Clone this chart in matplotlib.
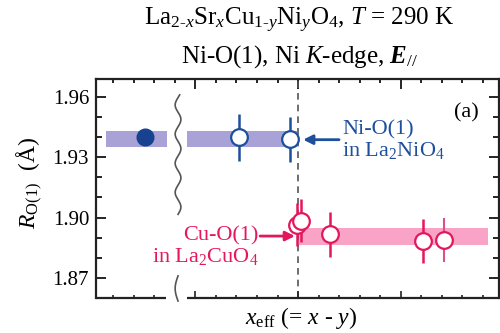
import numpy as np
import matplotlib
matplotlib.use("Agg")
import matplotlib.pyplot as plt

plt.rcParams['font.family'] = ['Liberation Serif', 'DejaVu Serif']
plt.rcParams['mathtext.fontset'] = 'custom'
plt.rcParams['mathtext.rm'] = 'Liberation Serif'
plt.rcParams['mathtext.it'] = 'Liberation Serif:italic'
plt.rcParams['mathtext.bf'] = 'Liberation Serif:bold:italic'

# Ni-O(1) distances, Ni K-edge (blue)
ni_ref_x = [-0.149]          # La2NiO4 reference (filled)
ni_ref_r = [1.9398]
ni_x = [-0.058, -0.008]
ni_r = [1.9398, 1.9389]
ni_err = [0.0115, 0.0112]
ni_band = (1.9349, 1.9428)

# Ni-O(1) distances on the x_eff >= 0 side (pink)
cu_x = [-0.001, 0.003, 0.031, 0.122]
cu_r = [1.8965, 1.8985, 1.8916, 1.8882]
cu_err = [0.0105, 0.0105, 0.0110, 0.0110]
cu_last_x = [0.142]
cu_last_r = [1.8887]
cu_last_err = [0.0110]
cu_band = (1.8862, 1.8946)

blue = '#1d4f9c'
blue_dark = '#17428f'
blue_band = '#a9a2d6'
pink = '#e5175c'
pink_pale = '#d9508a'
pink_band = '#f9a3c6'

fig = plt.figure(figsize=(5, 3.33), dpi=100)
ax = fig.add_axes([0.192, 0.105, 0.806, 0.658])
ax.set_xlim(-0.197, 0.196)
ax.set_ylim(1.8606, 1.9689)

# shaded bands
ax.fill_between([-0.187, -0.128], *ni_band, color=blue_band, lw=0, zorder=1)
ax.fill_between([-0.108, -0.001], *ni_band, color=blue_band, lw=0, zorder=1)
ax.fill_between([0.0, 0.185], *cu_band, color=pink_band, lw=0, zorder=1)

# x_eff = 0 line
ax.axvline(0, color='#555555', ls=(0, (4, 3)), lw=1.2, zorder=2)

ms = 12
ax.plot(ni_ref_x, ni_ref_r, 'o', color=blue_dark, ms=ms, zorder=4)
ax.errorbar(ni_x, ni_r, yerr=ni_err, fmt='o', color=blue, ms=ms, mfc='white',
            mec=blue, mew=1.6, elinewidth=1.8, capsize=0, zorder=4)
ax.errorbar(cu_x, cu_r, yerr=cu_err, fmt='o', color=pink, ms=ms, mfc='white',
            mec=pink, mew=1.6, elinewidth=1.8, capsize=0, zorder=4)
ax.errorbar(cu_last_x, cu_last_r, yerr=cu_last_err, fmt='o', color=pink_pale,
            ms=ms, mfc='white', mec=pink, mew=1.6, elinewidth=1.5, capsize=0,
            zorder=4)

# annotations
ax.annotate('', xy=(0.005, 1.9387), xytext=(0.040, 1.9387),
            arrowprops=dict(arrowstyle='-|>', color=blue, lw=2,
                            mutation_scale=14, shrinkA=0, shrinkB=0))
ax.text(0.043, 1.9383, 'Ni-O(1)\nin La$_2$NiO$_4$', color=blue, fontsize=16,
        ha='left', va='center', linespacing=1.0)
ax.annotate('', xy=(-0.003, 1.8908), xytext=(-0.037, 1.8908),
            arrowprops=dict(arrowstyle='-|>', color=pink, lw=2,
                            mutation_scale=14, shrinkA=0, shrinkB=0))
ax.text(-0.039, 1.8856, 'Cu-O(1)\nin La$_2$CuO$_4$', color=pink, fontsize=16,
        ha='right', va='center', multialignment='right', linespacing=1.0)
ax.text(0.164, 1.952, '(a)', fontsize=16, ha='center', va='center')

# axis break squiggle
br_x = -0.117
yy = np.linspace(1.9016, 1.961, 200)
ax.plot(br_x + 0.0028 * np.sin((yy - 1.9016) / 0.0145 * 2 * np.pi), yy,
        color='#555555', lw=1.2, clip_on=False, zorder=3)
yy = np.linspace(1.8585, 1.871, 60)
ax.plot(br_x - 0.0028 * np.sin((yy - 1.8585) / 0.025 * 2 * np.pi), yy,
        color='#555555', lw=1.2, clip_on=False, zorder=3)

# spines and ticks
ax.spines['bottom'].set_visible(False)
xt = ax.get_xaxis_transform()
ax.plot([-0.197, -0.129], [0, 0], color='#222222', lw=1.6, transform=xt,
        clip_on=False, solid_capstyle='butt')
ax.plot([-0.108, 0.196], [0, 0], color='#222222', lw=1.6, transform=xt,
        clip_on=False, solid_capstyle='butt')
for s in ['top', 'left', 'right']:
    ax.spines[s].set_linewidth(1.6)
    ax.spines[s].set_color('#222222')

major_x = [-0.1, 0.0, 0.1]
minor_x = [-0.18, -0.16, -0.14, -0.12, -0.08, -0.06, -0.04, -0.02,
           0.02, 0.04, 0.06, 0.08, 0.12, 0.14, 0.16, 0.18]
ax.set_xticks(major_x)
ax.set_xticks(minor_x, minor=True)
ax.set_xticklabels([])
ax.tick_params(axis='x', which='both', bottom=False, top=True, direction='in')
ax.tick_params(axis='x', which='major', length=7, width=1.2)
ax.tick_params(axis='x', which='minor', length=3, width=1.2)
bottom_minor = [v for v in minor_x if not (-0.129 < v < -0.108)]
ax.vlines(major_x, 0, 0.032, color='#222222', lw=1.2, transform=xt)
ax.vlines(bottom_minor, 0, 0.014, color='#222222', lw=1.2, transform=xt)

ax.set_yticks([1.87, 1.90, 1.93, 1.96])
ax.set_yticklabels(['1.87', '1.90', '1.93', '1.96'])
ax.set_yticks(np.arange(1.86, 1.97, 0.01), minor=True)
ax.tick_params(axis='y', which='both', left=True, right=True, direction='in',
               labelsize=15)
ax.tick_params(axis='y', which='major', length=7, width=1.2, pad=5)
ax.tick_params(axis='y', which='minor', length=4, width=1.2)

ax.set_ylabel(r'$R_{\mathrm{O(1)}}$  (Å)', fontsize=17, va='center')
ax.yaxis.set_label_coords(-0.164, 0.525)
ax.set_xlabel(r'$x_{\mathrm{eff}}$ (= $x$ - $y$)', fontsize=17, va='center')
ax.xaxis.set_label_coords(0.509, -0.091)

fig.text(0.598, 0.94,
         r'La$_{2\text{-}x}$Sr$_x$Cu$_{1\text{-}y}$Ni$_y$O$_4$, $T$ = 290 K',
         fontsize=18, ha='center', va='center')
fig.text(0.600, 0.829, r'Ni-O(1), Ni $K$-edge, $\mathbf{E}_{//}$',
         fontsize=18, ha='center', va='center')

fig.savefig('out.png', dpi=100)
